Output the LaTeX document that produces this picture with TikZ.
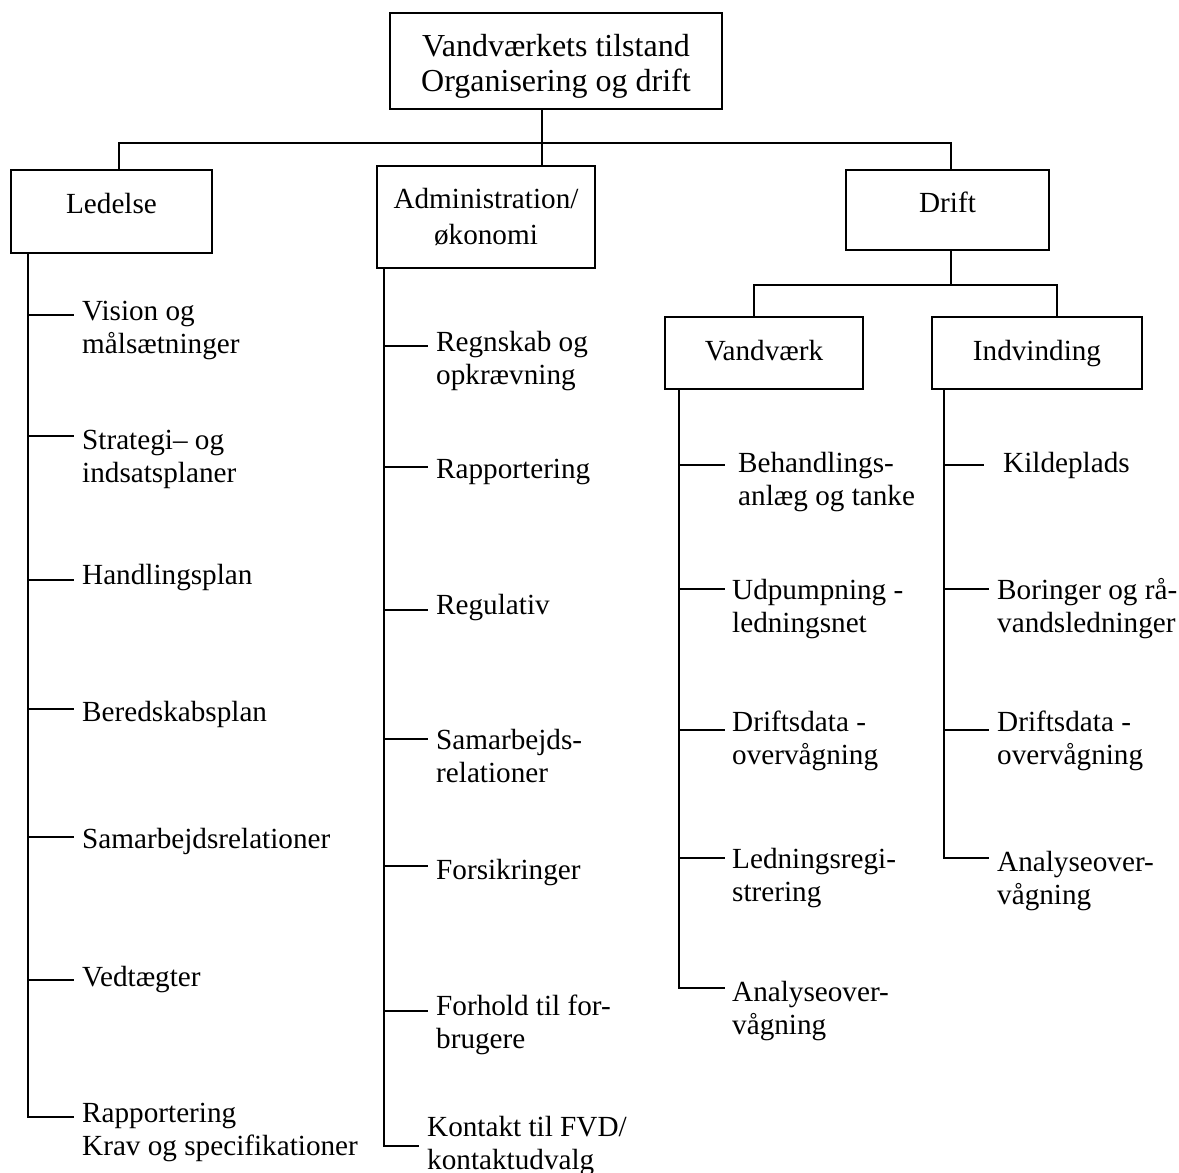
\documentclass[tikz,border=0pt]{standalone}
\usepackage{fontspec}
\setmainfont{Liberation Serif}
\usetikzlibrary{positioning}

\tikzset{
	box/.style={draw, line width=2.8pt, inner sep=0pt, align=center, font=\fontsize{29.2}{36}\selectfont},
	item/.style={anchor=base west, inner xsep=9pt, inner ysep=0pt, align=left, font=\fontsize{29.2}{33}\selectfont},
	link/.style={line width=2.8pt, line cap=rect},
}

\begin{document}
\begin{tikzpicture}[x=1pt, y=-1pt]
	\useasboundingbox (0,0) rectangle (1179,1173);
	% Boxes
	\node[box, minimum width=332pt, minimum height=96pt, font=\fontsize{32}{35}\selectfont] (top) at (556,61) {\rule{0pt}{32pt}Vandværkets tilstand\\Organisering og drift};
	\node[box, minimum width=201pt, minimum height=83pt, text height=22pt, text depth=18pt] (ledelse) at (111.5,211.5) {Ledelse};
	\node[box, minimum width=218pt, minimum height=102pt] (admin) at (486,217) {Administration/\\økonomi};
	\node[box, minimum width=203pt, minimum height=80pt, text height=22pt, text depth=18pt] (drift) at (947.5,210) {Drift};
	\node[box, minimum width=198pt, minimum height=72pt, text height=21pt, text depth=7pt] (vandvaerk) at (764,353) {Vandværk};
	\node[box, minimum width=210pt, minimum height=72pt, text height=21pt, text depth=7pt] (indvinding) at (1037,353) {Indvinding};
	
	% Bus lines
	\coordinate (bus) at (542,143);
	\coordinate (busL) at (119,143);
	\coordinate (busR) at (951,143);
	\coordinate (bus2) at (951,285);
	\coordinate (bus2L) at (754,285);
	\coordinate (bus2R) at (1057,285);
	\draw[link] (top.south -| bus) -- (admin.north -| bus);
	\draw[link] (ledelse.north -| busL) -- (busL) -- (busR) -- (drift.north -| busR);
	\draw[link] (drift.south -| bus2) -- (bus2);
	\draw[link] (vandvaerk.north -| bus2L) -- (bus2L) -- (bus2R) -- (indvinding.north -| bus2R);
	
	% Ledelse (two-line items: y is the last baseline)
	\coordinate (lt1) at (28,315);
	\coordinate (lt2) at (28,436);
	\coordinate (lt3) at (28,580);
	\coordinate (lt4) at (28,709);
	\coordinate (lt5) at (28,837);
	\coordinate (lt6) at (28,980);
	\coordinate (lt7) at (28,1117);
	\node[item] (l1) at (73,353) {Vision og\\målsætninger};
	\node[item] (l2) at (73,482) {Strategi– og\\indsatsplaner};
	\node[item] (l3) at (73,584) {Handlingsplan};
	\node[item] (l4) at (73,721) {Beredskabsplan};
	\node[item] (l5) at (73,848) {Samarbejdsrelationer};
	\node[item] (l6) at (73,986) {Vedtægter};
	\node[item] (l7) at (73,1155) {Rapportering\\Krav og specifikationer};
	\draw[link] (ledelse.south -| lt1) -- (lt7) -- (lt7 -| l7.west);
	\draw[link] (lt1) -- (lt1 -| l1.west);
	\draw[link] (lt2) -- (lt2 -| l2.west);
	\draw[link] (lt3) -- (lt3 -| l3.west);
	\draw[link] (lt4) -- (lt4 -| l4.west);
	\draw[link] (lt5) -- (lt5 -| l5.west);
	\draw[link] (lt6) -- (lt6 -| l6.west);
	
	% Administration
	\coordinate (at1) at (384,346);
	\coordinate (at2) at (384,467);
	\coordinate (at3) at (384,610);
	\coordinate (at4) at (384,739);
	\coordinate (at5) at (384,866);
	\coordinate (at6) at (384,1011);
	\coordinate (at7) at (384,1146);
	\node[item] (a1) at (427,384) {Regnskab og\\opkrævning};
	\node[item] (a2) at (427,478) {Rapportering};
	\node[item] (a3) at (427,614) {Regulativ};
	\node[item] (a4) at (427,782) {Samarbejds-\\relationer};
	\node[item] (a5) at (427,879) {Forsikringer};
	\node[item] (a6) at (427,1048) {Forhold til for-\\brugere};
	\node[item] (a7) at (418,1169) {Kontakt til FVD/\\kontaktudvalg};
	\draw[link] (admin.south -| at1) -- (at7) -- (at7 -| a7.west);
	\draw[link] (at1) -- (at1 -| a1.west);
	\draw[link] (at2) -- (at2 -| a2.west);
	\draw[link] (at3) -- (at3 -| a3.west);
	\draw[link] (at4) -- (at4 -| a4.west);
	\draw[link] (at5) -- (at5 -| a5.west);
	\draw[link] (at6) -- (at6 -| a6.west);
	
	% Vandvaerk
	\coordinate (vt1) at (679,465);
	\coordinate (vt2) at (679,589);
	\coordinate (vt3) at (679,730);
	\coordinate (vt4) at (679,858);
	\coordinate (vt5) at (679,988);
	\node[item, inner xsep=14pt] (v1) at (724,505) {Behandlings-\\anlæg og tanke};
	\node[item, inner xsep=8pt] (v2) at (724,632) {Udpumpning -\\ledningsnet};
	\node[item, inner xsep=8pt] (v3) at (724,764) {Driftsdata -\\overvågning};
	\node[item, inner xsep=8pt] (v4) at (724,901) {Ledningsregi-\\strering};
	\node[item, inner xsep=8pt] (v5) at (724,1034) {Analyseover-\\vågning};
	\draw[link] (vandvaerk.south -| vt1) -- (vt5) -- (vt5 -| v5.west);
	\draw[link] (vt1) -- (vt1 -| v1.west);
	\draw[link] (vt2) -- (vt2 -| v2.west);
	\draw[link] (vt3) -- (vt3 -| v3.west);
	\draw[link] (vt4) -- (vt4 -| v4.west);
	
	% Indvinding
	\coordinate (it1) at (944,465);
	\coordinate (it2) at (944,589);
	\coordinate (it3) at (944,730);
	\coordinate (it4) at (944,858);
	\node[item, inner xsep=20pt] (i1) at (983,472) {Kildeplads};
	\node[item] (i2) at (988,632) {Boringer og rå-\\vandsledninger};
	\node[item] (i3) at (988,764) {Driftsdata -\\overvågning};
	\node[item] (i4) at (988,904) {Analyseover-\\vågning};
	\draw[link] (indvinding.south -| it1) -- (it4) -- (it4 -| i4.west);
	\draw[link] (it1) -- (it1 -| i1.west);
	\draw[link] (it2) -- (it2 -| i2.west);
	\draw[link] (it3) -- (it3 -| i3.west);
\end{tikzpicture}
\end{document}
